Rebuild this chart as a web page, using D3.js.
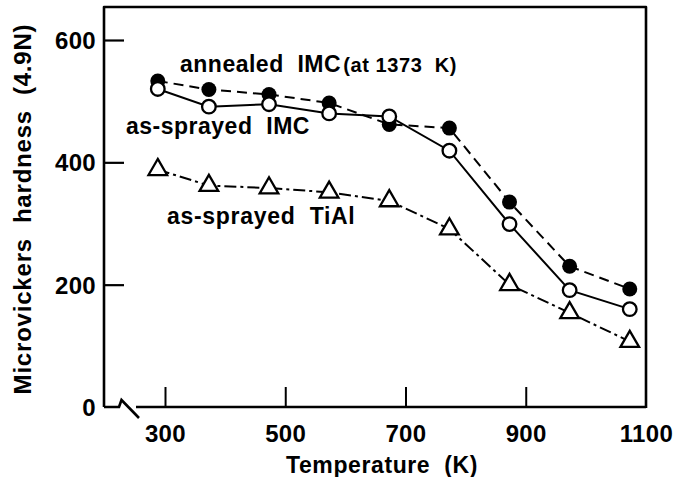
<!DOCTYPE html>
<html>
<head>
<meta charset="utf-8">
<script src="https://cdn.jsdelivr.net/npm/d3@7"></script>
<style>
  html, body { margin: 0; padding: 0; background: #fff; }
  svg { display: block; }
  text { font-family: "Liberation Sans", Arial, Helvetica, sans-serif; font-weight: bold; fill: #000; }
</style>
</head>
<body>
<svg id="chart" width="685" height="477"></svg>
<script>
// Test temperatures (K)
const temperatures = [288, 373, 473, 573, 673, 773, 873, 973, 1073];

// Microvickers hardness (4.9N) for each coating
const annealedIMC = [533, 519, 511, 497, 462, 456, 335, 230, 193];
const sprayedIMC  = [520, 491, 495, 480, 475, 419, 299, 191, 160];
const sprayedTiAl = [388, 362, 358, 351, 337, 291, 200, 154, 107];

const xTicks = [300, 500, 700, 900, 1100];
const yTicks = [0, 200, 400, 600];

const svg = d3.select("#chart");

const plotLeft = 104, plotRight = 646, plotTop = 7, plotBottom = 407;

const x = d3.scaleLinear().domain([300, 1100]).range([165, plotRight]);
const y = d3.scaleLinear().domain([0, 600]).range([plotBottom, 40]);

// Frame (left, top, right) plus the broken bottom axis
const frame = svg.append("g").attr("fill", "none").attr("stroke", "#000").attr("stroke-width", 2.6);
frame.append("path")
  .attr("d", `M${plotLeft},${plotBottom} L${plotLeft},${plotTop} L${plotRight},${plotTop} L${plotRight},${plotBottom + 1}`)
  .attr("stroke-linejoin", "round");
frame.append("path").attr("d", `M${plotLeft},${plotBottom} L119,${plotBottom} L121.5,400 L139,418`)
  .attr("stroke-linejoin", "miter");
frame.append("path").attr("d", `M136,${plotBottom} L${plotRight},${plotBottom}`);

// Y axis: ticks point inward
const yAxis = svg.append("g")
  .attr("transform", `translate(${plotLeft},0)`)
  .call(d3.axisLeft(y).tickValues(yTicks).tickSize(-20).tickFormat(d3.format("d")));
yAxis.select(".domain").remove();
yAxis.selectAll(".tick line").attr("stroke", "#000").attr("stroke-width", 2.2)
  .filter(d => d === 0).remove();
yAxis.selectAll(".tick text").attr("font-size", 24).attr("font-family", null)
  .attr("letter-spacing", 0.3).attr("x", -8).attr("dy", "0.36em");

// X axis: ticks point upward into the plot
const xAxis = svg.append("g")
  .attr("transform", `translate(0,${plotBottom})`)
  .call(d3.axisBottom(x).tickValues(xTicks).tickSize(-20).tickFormat(d3.format("d")));
xAxis.select(".domain").remove();
xAxis.selectAll(".tick line").attr("stroke", "#000").attr("stroke-width", 2)
  .filter(d => d === 1100).remove();
xAxis.selectAll(".tick text").attr("font-size", 24).attr("font-family", null)
  .attr("letter-spacing", 0.4).attr("y", 18).attr("dy", "0.71em");

// Axis titles
svg.append("text")
  .attr("x", 382).attr("y", 473)
  .attr("text-anchor", "middle").attr("font-size", 23)
  .attr("letter-spacing", 0.6)
  .attr("xml:space", "preserve")
  .text("Temperature  (K)");

svg.append("text")
  .attr("transform", "translate(31,209) rotate(-90)")
  .attr("text-anchor", "middle").attr("font-size", 24)
  .attr("letter-spacing", 0.8)
  .attr("xml:space", "preserve")
  .text("Microvickers  hardness  (4.9N)");

// Series lines
const series = [
  { values: sprayedTiAl, dash: "12,4,3,4" },
  { values: sprayedIMC,  dash: null },
  { values: annealedIMC, dash: "10,6" }
];

const line = d3.line()
  .x((d, i) => x(temperatures[i]))
  .y(d => y(d));

svg.append("g").selectAll("path")
  .data(series)
  .join("path")
  .attr("d", d => line(d.values))
  .attr("fill", "none")
  .attr("stroke", "#000")
  .attr("stroke-width", 2)
  .attr("stroke-dasharray", d => d.dash);

// Markers
const tri = d3.symbol().type(d3.symbolTriangle).size(150);
svg.append("g").selectAll("path")
  .data(sprayedTiAl)
  .join("path")
  .attr("transform", (d, i) => `translate(${x(temperatures[i])},${y(d)})`)
  .attr("d", tri)
  .attr("fill", "#fff")
  .attr("stroke", "#000")
  .attr("stroke-width", 2.3);

svg.append("g").selectAll("circle")
  .data(annealedIMC)
  .join("circle")
  .attr("cx", (d, i) => x(temperatures[i]))
  .attr("cy", d => y(d))
  .attr("r", 7.5)
  .attr("fill", "#000");

svg.append("g").selectAll("circle")
  .data(sprayedIMC)
  .join("circle")
  .attr("cx", (d, i) => x(temperatures[i]))
  .attr("cy", d => y(d))
  .attr("r", 6.8)
  .attr("fill", "#fff")
  .attr("stroke", "#000")
  .attr("stroke-width", 2.3);

// Series labels
const lab1 = svg.append("text").attr("x", 180).attr("y", 72).attr("font-size", 23)
  .attr("letter-spacing", 0.5).attr("xml:space", "preserve");
lab1.append("tspan").text("annealed  IMC");
lab1.append("tspan").attr("font-size", 20).attr("dx", 2).attr("letter-spacing", 0.6).text("(at 1373  K)");

svg.append("text").attr("x", 126).attr("y", 134).attr("font-size", 23)
  .attr("letter-spacing", 0.5).attr("xml:space", "preserve").text("as-sprayed  IMC");

svg.append("text").attr("x", 167).attr("y", 224).attr("font-size", 23)
  .attr("letter-spacing", 0.7).attr("xml:space", "preserve").text("as-sprayed  TiAl");
</script>
</body>
</html>
